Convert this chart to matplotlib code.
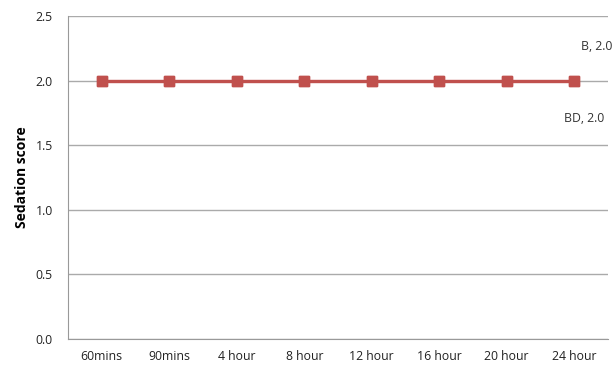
import matplotlib
matplotlib.use("Agg")
import matplotlib.pyplot as plt

# sedation score over time, two regimens (both stay at 2.0)
times = ["60mins", "90mins", "4 hour", "8 hour", "12 hour", "16 hour", "20 hour", "24 hour"]
score_b = [2.0, 2.0, 2.0, 2.0, 2.0, 2.0, 2.0, 2.0]
score_bd = [2.0, 2.0, 2.0, 2.0, 2.0, 2.0, 2.0, 2.0]

plt.rcParams['font.family'] = ['Open Sans', 'DejaVu Sans']

fig = plt.figure(figsize=(6.13, 3.65), dpi=100)
ax = fig.add_axes([68 / 613, 26 / 365, 540 / 613, 323 / 365])

x = list(range(len(times)))
red = "#C0504D"
ax.plot(x, score_bd, color=red, lw=2.3, marker="s", markersize=7.5, zorder=3)
ax.plot(x, score_b, color=red, lw=2.3, marker="s", markersize=7.5, zorder=4)

# end-of-series labels
ax.annotate("B, %.1f" % score_b[-1], (x[-1], score_b[-1]), xytext=(38, 34),
            textcoords="offset pixels", fontsize=8.8, color="#333333", ha="right", va="center")
ax.annotate("BD, %.1f" % score_bd[-1], (x[-1], score_bd[-1]), xytext=(10, -38),
            textcoords="offset pixels", fontsize=8.8, color="#333333", ha="center", va="center")

ax.set_xlim(-0.5, len(times) - 0.5)
ax.set_ylim(0, 2.5)
ax.set_yticks([0, 0.5, 1.0, 1.5, 2.0, 2.5])
ax.set_yticklabels(["%.1f" % v for v in [0, 0.5, 1.0, 1.5, 2.0, 2.5]])
ax.set_xticks(x)
ax.set_xticklabels(times)
ax.tick_params(axis="both", length=0, labelsize=8.8, colors="#222222")
ax.tick_params(axis="x", pad=8)
ax.tick_params(axis="y", pad=11)

ax.grid(axis="y", color="#AAAAAA", lw=1)
ax.set_axisbelow(True)
for s in ["top", "right"]:
    ax.spines[s].set_visible(False)
ax.spines["left"].set_color("#999999")
ax.spines["bottom"].set_color("#999999")

ax.set_ylabel("Sedation score", fontsize=10, fontweight="bold", labelpad=5)

fig.savefig("out.png", dpi=100)
